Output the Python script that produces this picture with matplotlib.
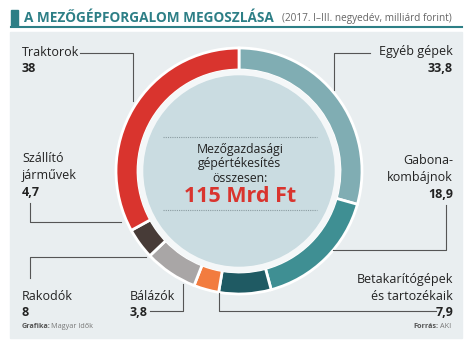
import matplotlib.pyplot as plt
from matplotlib.patches import Rectangle, Circle

plt.rcParams["font.family"] = ["Open Sans", "DejaVu Sans"]

# értékek az óramutató járása szerint, fentről indulva
categories = ["Egyéb gépek", "Gabona-\nkombájnok", "Betakarítógépek\nés tartozékaik",
              "Bálázók", "Rakodók", "Szállító\njárművek", "Traktorok"]
values = [33.8, 18.9, 7.9, 3.8, 8.0, 4.7, 38.0]
value_labels = ["33,8", "18,9", "7,9", "3,8", "8", "4,7", "38"]
colors = ["#80adb3", "#3f8f93", "#1f5a63", "#f27c3f", "#a9a6a6", "#473b37", "#d9342e"]

W, H = 468, 341
fig = plt.figure(figsize=(W / 100, H / 100), dpi=100)
ax = fig.add_axes([0, 0, 1, 1])


def Y(y):
    return H - y


# gyűrű
cx, cy, R = 239, Y(171), 123
ax.pie(values, colors=colors, startangle=90, counterclock=False, center=(cx, cy),
       radius=R, frame=True,
       wedgeprops=dict(width=22, edgecolor="white", linewidth=2))
ax.set_xlim(0, W)
ax.set_ylim(0, H)
ax.set_aspect("equal")
ax.axis("off")
ax.add_patch(Circle((cx, cy), 101, color="#f4f7f8", zorder=3))
ax.add_patch(Circle((cx, cy), 95, color="#cadce1", zorder=4))

# háttér panel
ax.add_patch(Rectangle((10, Y(338)), 452, 306, color="#e9eef0", zorder=-1))

# cím
teal = "#2d7f86"
ax.add_patch(Rectangle((11, Y(26)), 7, 16, color=teal, zorder=1))
ax.plot([11, 462], [Y(27), Y(27)], color=teal, lw=1.5, zorder=1)
ax.text(24, Y(18), "A MEZŐGÉPFORGALOM MEGOSZLÁSA", color=teal, fontsize=9.8,
        fontweight="bold", va="center", ha="left")
ax.text(452, Y(18.5), "(2017. I–III. negyedév, milliárd forint)", color="#666666",
        fontsize=7.2, va="center", ha="right")

# középső szöveg
ax.plot([163, 317], [Y(137), Y(137)], color="#8a9ba0", lw=0.8, ls=(0, (1, 1)), zorder=5)
ax.plot([163, 317], [Y(210), Y(210)], color="#8a9ba0", lw=0.8, ls=(0, (1, 1)), zorder=5)
for txt, yy in [("Mezőgazdasági", 150), ("gépértékesítés", 164), ("összesen:", 178)]:
    ax.text(240, Y(yy), txt, ha="center", va="center", fontsize=8.8, color="#222222", zorder=6)
ax.text(240, Y(197), "115 Mrd Ft", ha="center", va="center", fontsize=15.5,
        fontweight="bold", color="#d9342e", zorder=6)

# feliratok és vezetővonalak
lc = "#555555"
lab = dict(fontsize=9, color="#222222", va="center")
num = dict(fontsize=9, color="#222222", va="center", fontweight="bold")


def leader(xs, ys):
    ax.plot(xs, [Y(v) for v in ys], color=lc, lw=0.8, zorder=2)


# Egyéb gépek
ax.text(453, Y(52), categories[0], ha="right", **lab)
ax.text(453, Y(68), value_labels[0], ha="right", **num)
leader([370, 334, 334], [53, 53, 90])
# Gabona-kombájnok
ax.text(453, Y(169), categories[1], ha="right", linespacing=1.4, **lab)
ax.text(453, Y(195), value_labels[1], ha="right", **num)
leader([446, 446, 333], [205, 250, 250])
# Betakarítógépek
ax.text(453, Y(288), categories[2], ha="right", linespacing=1.3, **lab)
ax.text(453, Y(312), value_labels[2], ha="right", **num)
leader([436, 219, 219], [311, 311, 293])
# Bálázók
ax.text(130, Y(296), categories[3], ha="left", **lab)
ax.text(130, Y(312), value_labels[3], ha="left", **num)
leader([150, 183, 183], [311, 311, 284])
# Rakodók
ax.text(22, Y(296), categories[4], ha="left", **lab)
ax.text(22, Y(312), value_labels[4], ha="left", **num)
leader([30, 30, 146], [278, 257, 257])
# Szállító járművek
ax.text(22, Y(167), categories[5], ha="left", linespacing=1.4, **lab)
ax.text(22, Y(192), value_labels[5], ha="left", **num)
leader([30, 30, 121], [203, 222, 222])
# Traktorok
ax.text(22, Y(52), categories[6], ha="left", **lab)
ax.text(22, Y(69), value_labels[6], ha="left", **num)
leader([80, 133, 133], [53, 53, 101])

# forrás
ax.text(22, Y(327), "Grafika:", fontsize=5.2, fontweight="bold", color="#555555", va="center")
ax.text(51, Y(327), "Magyar Idők", fontsize=5.2, color="#777777", va="center")
ax.text(438, Y(327), "Forrás:", fontsize=5.2, fontweight="bold", color="#555555",
        va="center", ha="right")
ax.text(440, Y(327), "AKI", fontsize=5.2, color="#777777", va="center", ha="left")

fig.savefig("out.png", dpi=100)
